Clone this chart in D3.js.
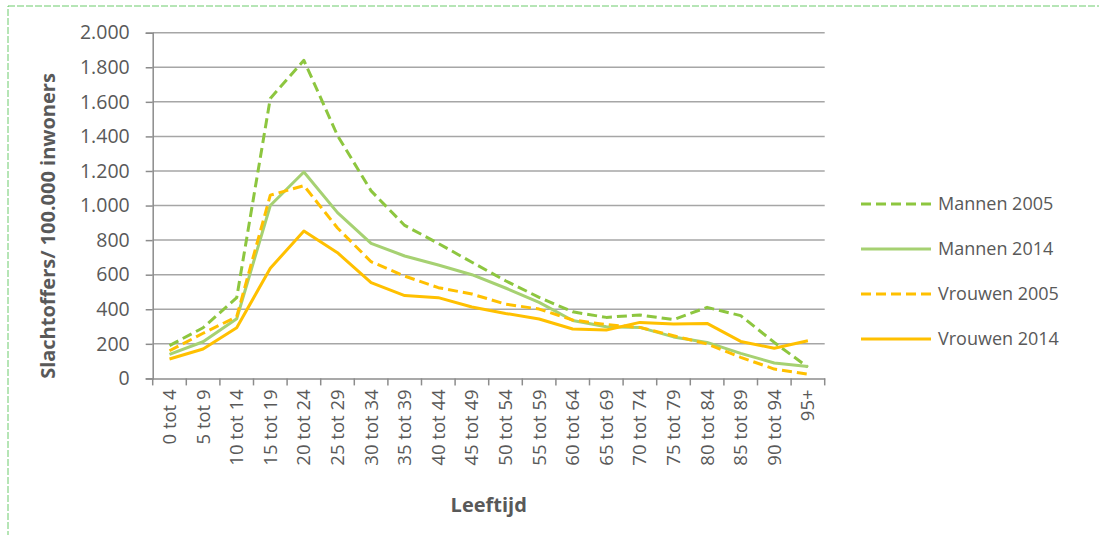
<!DOCTYPE html>
<html>
<head>
<meta charset="utf-8">
<script src="https://cdn.jsdelivr.net/npm/d3@7/dist/d3.min.js"></script>
<style>
  html, body { margin: 0; padding: 0; background: #fff; }
  svg { display: block; }
  text { font-family: "Open Sans", "Noto Sans", sans-serif; fill: #595959; }
</style>
</head>
<body>
<svg id="chart" width="1099" height="535"></svg>
<script>
const categories = ["0 tot 4","5 tot 9","10 tot 14","15 tot 19","20 tot 24","25 tot 29","30 tot 34","35 tot 39","40 tot 44","45 tot 49","50 tot 54","55 tot 59","60 tot 64","65 tot 69","70 tot 74","75 tot 79","80 tot 84","85 tot 89","90 tot 94","95+"];
const mannen2005 = [190, 293, 467, 1620, 1840, 1405, 1085, 885, 781, 672, 565, 469, 385, 353, 367, 340, 411, 363, 208, 65];
const mannen2014 = [139, 212, 345, 1000, 1194, 959, 781, 708, 656, 600, 523, 440, 335, 299, 295, 240, 208, 145, 89, 69];
const vrouwen2005 = [160, 261, 357, 1060, 1115, 870, 675, 592, 525, 488, 430, 401, 338, 311, 295, 247, 199, 122, 54, 25];
const vrouwen2014 = [112, 170, 293, 637, 853, 727, 554, 479, 467, 413, 376, 344, 286, 280, 324, 315, 318, 214, 174, 218];
const yTicks = [0, 200, 400, 600, 800, 1000, 1200, 1400, 1600, 1800, 2000];
const seriesNames = ["Mannen 2005", "Mannen 2014", "Vrouwen 2005", "Vrouwen 2014"];

const series = [
  { name: seriesNames[0], values: mannen2005, color: "#8DC63F", dash: "10,5" },
  { name: seriesNames[1], values: mannen2014, color: "#A6D172", dash: null },
  { name: seriesNames[2], values: vrouwen2005, color: "#FFC000", dash: "10,5" },
  { name: seriesNames[3], values: vrouwen2014, color: "#FFC000", dash: null }
];

const svg = d3.select("#chart");
const plotL = 152.7, plotR = 824.7, plotT = 32.7, plotB = 378.4;

// outer dashed border
svg.append("rect")
  .attr("x", 8).attr("y", 6).attr("width", 1110).attr("height", 560)
  .attr("fill", "none").attr("stroke", "#6CCB6C").attr("stroke-width", 1)
  .attr("stroke-dasharray", "7,2");

const x = d3.scaleBand().domain(categories).range([plotL, plotR]);
const y = d3.scaleLinear().domain([0, 2000]).range([plotB, plotT]);

const fmt = v => d3.format(",")(v).replace(/,/g, ".");

// gridlines
svg.append("g").selectAll("line").data(yTicks.filter(d => d > 0)).join("line")
  .attr("x1", plotL).attr("x2", plotR)
  .attr("y1", d => y(d)).attr("y2", d => y(d))
  .attr("stroke", "#A6A6A6").attr("stroke-width", 1.5);

// y axis
const yAxis = svg.append("g").attr("transform", `translate(${plotL},0)`)
  .call(d3.axisLeft(y).tickValues(yTicks).tickFormat(fmt).tickSize(7).tickPadding(16));
yAxis.select(".domain").attr("stroke", "#8C8C8C").attr("stroke-width", 1.5);
yAxis.selectAll(".tick line").attr("stroke", "#8C8C8C").attr("stroke-width", 1.5);
yAxis.selectAll(".tick text").attr("font-size", 19.5).attr("fill", "#595959")
  .attr("font-family", "'Open Sans', sans-serif");

// x axis
const xAxis = svg.append("g").attr("transform", `translate(0,${plotB})`)
  .call(d3.axisBottom(x).tickSizeInner(0).tickSizeOuter(0));
xAxis.select(".domain").attr("stroke", "#8C8C8C").attr("stroke-width", 1.5);
xAxis.selectAll(".tick line").remove();
xAxis.selectAll(".tick text")
  .attr("font-size", 18.5).attr("fill", "#595959")
  .attr("font-family", "'Open Sans', sans-serif")
  .attr("transform", "rotate(-90)")
  .attr("text-anchor", "end")
  .attr("x", -11).attr("y", 0).attr("dy", "0.35em");
// boundary tick marks
const boundaries = categories.map(c => x(c)).concat([x(categories[categories.length - 1]) + x.bandwidth()]);
xAxis.append("g").selectAll("line").data(boundaries).join("line")
  .attr("x1", d => d).attr("x2", d => d).attr("y1", 0).attr("y2", 7)
  .attr("stroke", "#8C8C8C").attr("stroke-width", 1.5);

// lines
const line = d3.line()
  .x((d, i) => x(categories[i]) + x.bandwidth() / 2)
  .y(d => y(d));
svg.append("g").selectAll("path").data(series).join("path")
  .attr("d", d => line(d.values))
  .attr("fill", "none")
  .attr("stroke", d => d.color)
  .attr("stroke-width", 3)
  .attr("stroke-linejoin", "round")
  .attr("stroke-dasharray", d => d.dash);

// axis titles
svg.append("text")
  .attr("transform", `translate(55,226) rotate(-90)`)
  .attr("text-anchor", "middle")
  .attr("font-size", 20).attr("font-weight", "bold")
  .text("Slachtoffers/ 100.000 inwoners");
svg.append("text")
  .attr("x", (plotL + plotR) / 2).attr("y", 511.5)
  .attr("text-anchor", "middle")
  .attr("font-size", 20).attr("font-weight", "bold")
  .text("Leeftijd");

// legend
const legendY = [204, 249, 294, 339];
const lg = svg.append("g").selectAll("g").data(series).join("g")
  .attr("transform", (d, i) => `translate(861,${legendY[i]})`);
lg.append("line").attr("x1", 0).attr("x2", 70).attr("y1", 0).attr("y2", 0)
  .attr("stroke", d => d.color).attr("stroke-width", 3)
  .attr("stroke-dasharray", d => d.dash);
lg.append("text").attr("x", 77).attr("y", 0).attr("dy", "0.36em")
  .attr("font-size", 18)
  .text(d => d.name);
</script>
</body>
</html>
